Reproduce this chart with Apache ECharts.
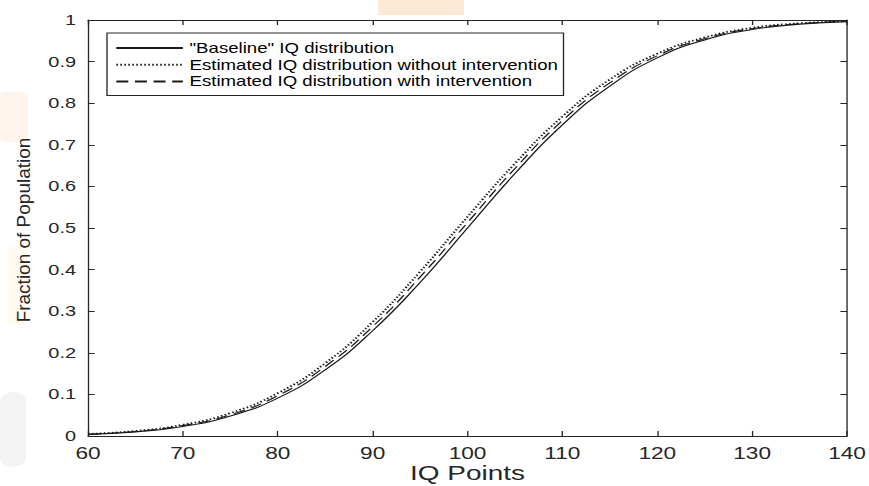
<!DOCTYPE html>
<html>
<head>
<meta charset="utf-8">
<title>IQ distribution</title>
<script src="https://cdn.jsdelivr.net/npm/echarts@6/dist/echarts.min.js"></script>
<style>
  html, body { margin: 0; padding: 0; background: #fff; overflow: hidden; }
  /* 原图整体横向拉伸，这里用同样的比例拉伸 */
  #main { width: 653px; height: 486px; transform: scaleX(1.3308); transform-origin: 0 0; }
</style>
</head>
<body>
<div id="main"></div>
<script>
// IQ 点（横轴）
var iqPoints = [60, 65, 70, 75, 80, 85, 90, 95, 100, 105, 110, 115, 120, 125, 130, 135, 140];

// 三条累计分布曲线
var baseline         = [0.004, 0.010, 0.023, 0.048, 0.091, 0.159, 0.253, 0.369, 0.500, 0.631, 0.748, 0.841, 0.909, 0.952, 0.977, 0.990, 0.996];
var noIntervention   = [0.005, 0.012, 0.027, 0.055, 0.103, 0.175, 0.274, 0.395, 0.527, 0.655, 0.768, 0.857, 0.919, 0.958, 0.981, 0.992, 0.997];
var withIntervention = [0.004, 0.011, 0.025, 0.051, 0.097, 0.167, 0.263, 0.382, 0.513, 0.643, 0.758, 0.849, 0.914, 0.955, 0.979, 0.991, 0.997];

var seriesNames = ['"Baseline" IQ distribution', 'Estimated IQ distribution without intervention', 'Estimated IQ distribution with intervention'];

var SX = 1.3308;   // 横向拉伸比例
var axisColor = '#262626';
var labelFont = 'Liberation Sans, Arial, sans-serif';

function pairs(ys) {
    var out = [];
    for (var i = 0; i < iqPoints.length; i++) {
        out.push([iqPoints[i], ys[i]]);
    }
    return out;
}

function boxAxis(pos, isX, showLabel) {
    var ax = {
        type: 'value',
        position: pos,
        axisLine: { show: true, onZero: false, lineStyle: { color: axisColor, width: 1 } },
        axisTick: { show: true, inside: true, length: 5, lineStyle: { color: axisColor } },
        axisLabel: { show: showLabel },
        splitLine: { show: false }
    };
    if (isX) {
        ax.min = 60; ax.max = 140; ax.interval = 10;
    } else {
        ax.min = 0; ax.max = 1; ax.interval = 0.1;
    }
    return ax;
}

var xBottom = boxAxis('bottom', true, true);
xBottom.axisLabel = { fontFamily: labelFont, fontSize: 17, color: axisColor, margin: 9 };
xBottom.name = 'IQ Points';
xBottom.nameLocation = 'middle';
xBottom.nameGap = 26;
xBottom.nameMoveOverlap = false;
xBottom.nameTextStyle = { fontFamily: labelFont, fontSize: 21, color: axisColor };

var yLeft = boxAxis('left', false, true);
yLeft.axisLabel = { fontFamily: labelFont, fontSize: 15, color: axisColor, margin: 9 };

var myChart = echarts.init(document.getElementById('main'), null, { renderer: 'svg' });
var option = {
    backgroundColor: '#fff',
    animation: false,
    grid: { left: 88 / SX, right: 22 / SX, top: 20, bottom: 50, outerBoundsMode: 'none', containLabel: false },
    graphic: [
        // 原图背景上的淡色水印
        { type: 'rect', z: -10, silent: true, shape: { x: 378 / SX, y: 0, width: 86 / SX, height: 15 }, style: { fill: '#fde8d6' } },
        { type: 'rect', z: -10, silent: true, shape: { x: 0, y: 92, width: 28 / SX, height: 50, r: 4 }, style: { fill: '#fef4ec' } },
        { type: 'rect', z: -10, silent: true, shape: { x: 8 / SX, y: 245, width: 20 / SX, height: 80, r: 4 }, style: { fill: '#fffbf0' } },
        { type: 'rect', z: -10, silent: true, shape: { x: 0, y: 392, width: 26 / SX, height: 75, r: 10 }, style: { fill: '#f3f3f3' } },
        // 纵轴标题：旋转后只在纵向保持原始宽度
        {
            type: 'text', silent: true,
            x: 24 / SX, y: 230,
            rotation: Math.PI / 2,
            scaleX: 1, scaleY: 1 / SX,
            style: {
                text: 'Fraction of Population',
                font: '19px ' + labelFont,
                fill: axisColor,
                align: 'center',
                verticalAlign: 'middle'
            }
        }
    ],
    legend: {
        orient: 'vertical',
        left: 107 / SX,
        top: 33,
        itemWidth: 50,
        itemHeight: 12,
        itemGap: 2.7,
        padding: [8, 4, 7, 6],
        borderColor: axisColor,
        borderWidth: 1,
        backgroundColor: '#fff',
        itemStyle: { opacity: 0 },
        textStyle: { fontFamily: labelFont, fontSize: 14, lineHeight: 12, color: '#000' },
        data: seriesNames
    },
    xAxis: [xBottom, boxAxis('top', true, false)],
    yAxis: [yLeft, boxAxis('right', false, false)],
    series: [{
        name: seriesNames[0], type: 'line', smooth: true, symbol: 'none', showSymbol: false,
        data: pairs(baseline),
        lineStyle: { color: '#1a1a1a', width: 1.1, type: 'solid' },
        itemStyle: { color: '#1a1a1a' }
    }, {
        name: seriesNames[1], type: 'line', smooth: true, symbol: 'none', showSymbol: false,
        data: pairs(noIntervention),
        lineStyle: { color: '#1a1a1a', width: 1.8, type: [1.2, 1.8] },
        itemStyle: { color: '#1a1a1a' }
    }, {
        name: seriesNames[2], type: 'line', smooth: true, symbol: 'none', showSymbol: false,
        data: pairs(withIntervention),
        lineStyle: { color: '#1a1a1a', width: 1.1, type: [9, 5] },
        itemStyle: { color: '#1a1a1a' }
    }]
};
myChart.setOption(option);
</script>
</body>
</html>
